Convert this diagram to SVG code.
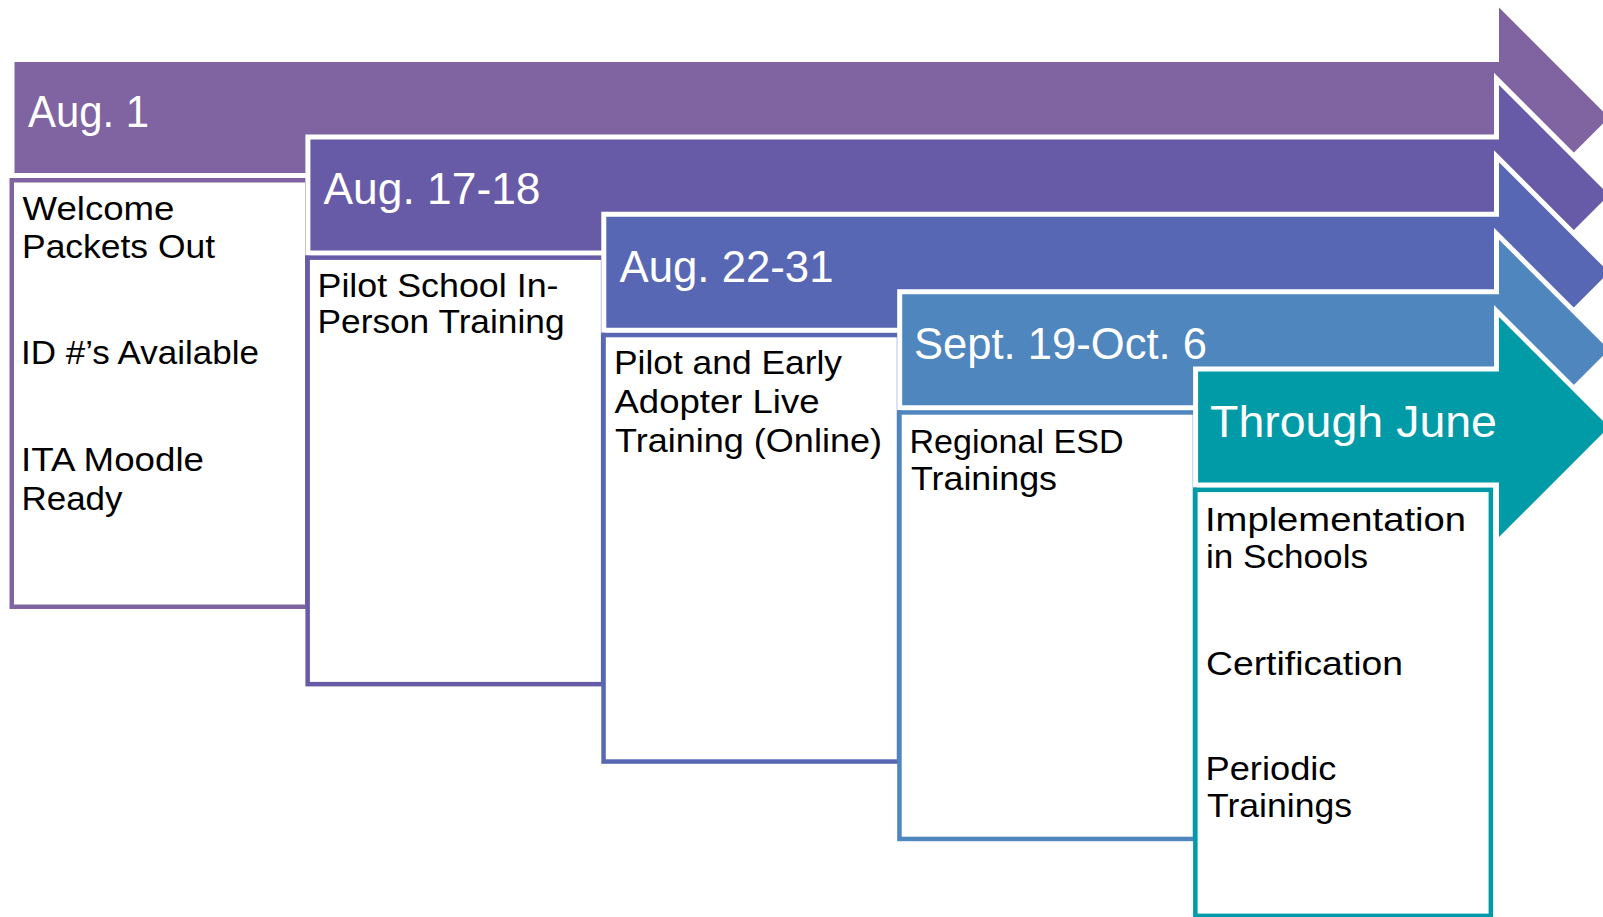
<svg xmlns="http://www.w3.org/2000/svg" width="1603" height="917" viewBox="0 0 1603 917">
<style>
.arrow{stroke:#FFFFFF;stroke-width:10;stroke-linejoin:miter;paint-order:stroke}
.box{fill:#FFFFFF;stroke-width:4.5}
.hdr{font-family:"Liberation Sans",Arial,sans-serif;font-size:45px;fill:#FFFFFF}
.txt{font-family:"Liberation Sans",Arial,sans-serif;font-size:34px;fill:#000000}
</style>
<rect width="1603" height="917" fill="#FFFFFF"/>
<g id="stage1">
<path class="arrow" fill="#8064A2" d="M14.5,62 H1499 V7.5 L1609,117.5 L1499,227.5 V173 H14.5 Z"/>
<text class="hdr" x="28" y="127" textLength="121" lengthAdjust="spacingAndGlyphs">Aug. 1</text>
<rect class="box" stroke="#8064A2" x="11.75" y="180.25" width="295.5" height="426.5"/>
<text class="txt" x="22.5" y="220" textLength="152" lengthAdjust="spacingAndGlyphs">Welcome</text>
<text class="txt" x="22" y="258" textLength="193" lengthAdjust="spacingAndGlyphs">Packets Out</text>
<text class="txt" x="21" y="364" textLength="238" lengthAdjust="spacingAndGlyphs">ID #’s Available</text>
<text class="txt" x="21" y="471" textLength="183" lengthAdjust="spacingAndGlyphs">ITA Moodle</text>
<text class="txt" x="21.5" y="510" textLength="101" lengthAdjust="spacingAndGlyphs">Ready</text>
</g>
<g id="stage2">
<path class="arrow" fill="#675BA8" d="M310.4,139.4 H1499 V84.9 L1609,194.9 L1499,304.9 V250.4 H310.4 Z"/>
<text class="hdr" x="323.5" y="204.4" textLength="217" lengthAdjust="spacingAndGlyphs">Aug. 17-18</text>
<rect class="box" stroke="#675BA8" x="307.65" y="257.65" width="295.5" height="426.5"/>
<text class="txt" x="317.5" y="297" textLength="241" lengthAdjust="spacingAndGlyphs">Pilot School In-</text>
<text class="txt" x="317.5" y="333" textLength="247" lengthAdjust="spacingAndGlyphs">Person Training</text>
</g>
<g id="stage3">
<path class="arrow" fill="#5867B4" d="M606.3,216.8 H1499 V162.3 L1609,272.3 L1499,382.3 V327.8 H606.3 Z"/>
<text class="hdr" x="619.5" y="281.8" textLength="214" lengthAdjust="spacingAndGlyphs">Aug. 22-31</text>
<rect class="box" stroke="#5867B4" x="603.55" y="335.05" width="295.5" height="426.5"/>
<text class="txt" x="614" y="374" textLength="228" lengthAdjust="spacingAndGlyphs">Pilot and Early</text>
<text class="txt" x="614.5" y="413" textLength="205" lengthAdjust="spacingAndGlyphs">Adopter Live</text>
<text class="txt" x="615" y="451.5" textLength="267" lengthAdjust="spacingAndGlyphs">Training (Online)</text>
</g>
<g id="stage4">
<path class="arrow" fill="#4F86BE" d="M902.2,294.2 H1499 V239.7 L1609,349.7 L1499,459.7 V405.2 H902.2 Z"/>
<text class="hdr" x="914" y="359.2" textLength="293" lengthAdjust="spacingAndGlyphs">Sept. 19-Oct. 6</text>
<rect class="box" stroke="#4F86BE" x="899.45" y="412.45" width="295.5" height="426.5"/>
<text class="txt" x="909.5" y="453" textLength="214" lengthAdjust="spacingAndGlyphs">Regional ESD</text>
<text class="txt" x="911" y="490" textLength="146" lengthAdjust="spacingAndGlyphs">Trainings</text>
</g>
<g id="stage5">
<path class="arrow" fill="#009BA6" d="M1198.1,371.6 H1499 V317.1 L1609,427.1 L1499,537.1 V482.6 H1198.1 Z"/>
<text class="hdr" x="1210" y="436.6" textLength="287" lengthAdjust="spacingAndGlyphs">Through June</text>
<rect class="box" stroke="#009BA6" x="1195.35" y="489.85" width="295.5" height="426"/>
<text class="txt" x="1205" y="531" textLength="261" lengthAdjust="spacingAndGlyphs">Implementation</text>
<text class="txt" x="1206" y="568" textLength="162" lengthAdjust="spacingAndGlyphs">in Schools</text>
<text class="txt" x="1206" y="675" textLength="197" lengthAdjust="spacingAndGlyphs">Certification</text>
<text class="txt" x="1205.5" y="780" textLength="131" lengthAdjust="spacingAndGlyphs">Periodic</text>
<text class="txt" x="1207" y="817" textLength="145" lengthAdjust="spacingAndGlyphs">Trainings</text>
</g>
<g id="connectors"/>
</svg>
